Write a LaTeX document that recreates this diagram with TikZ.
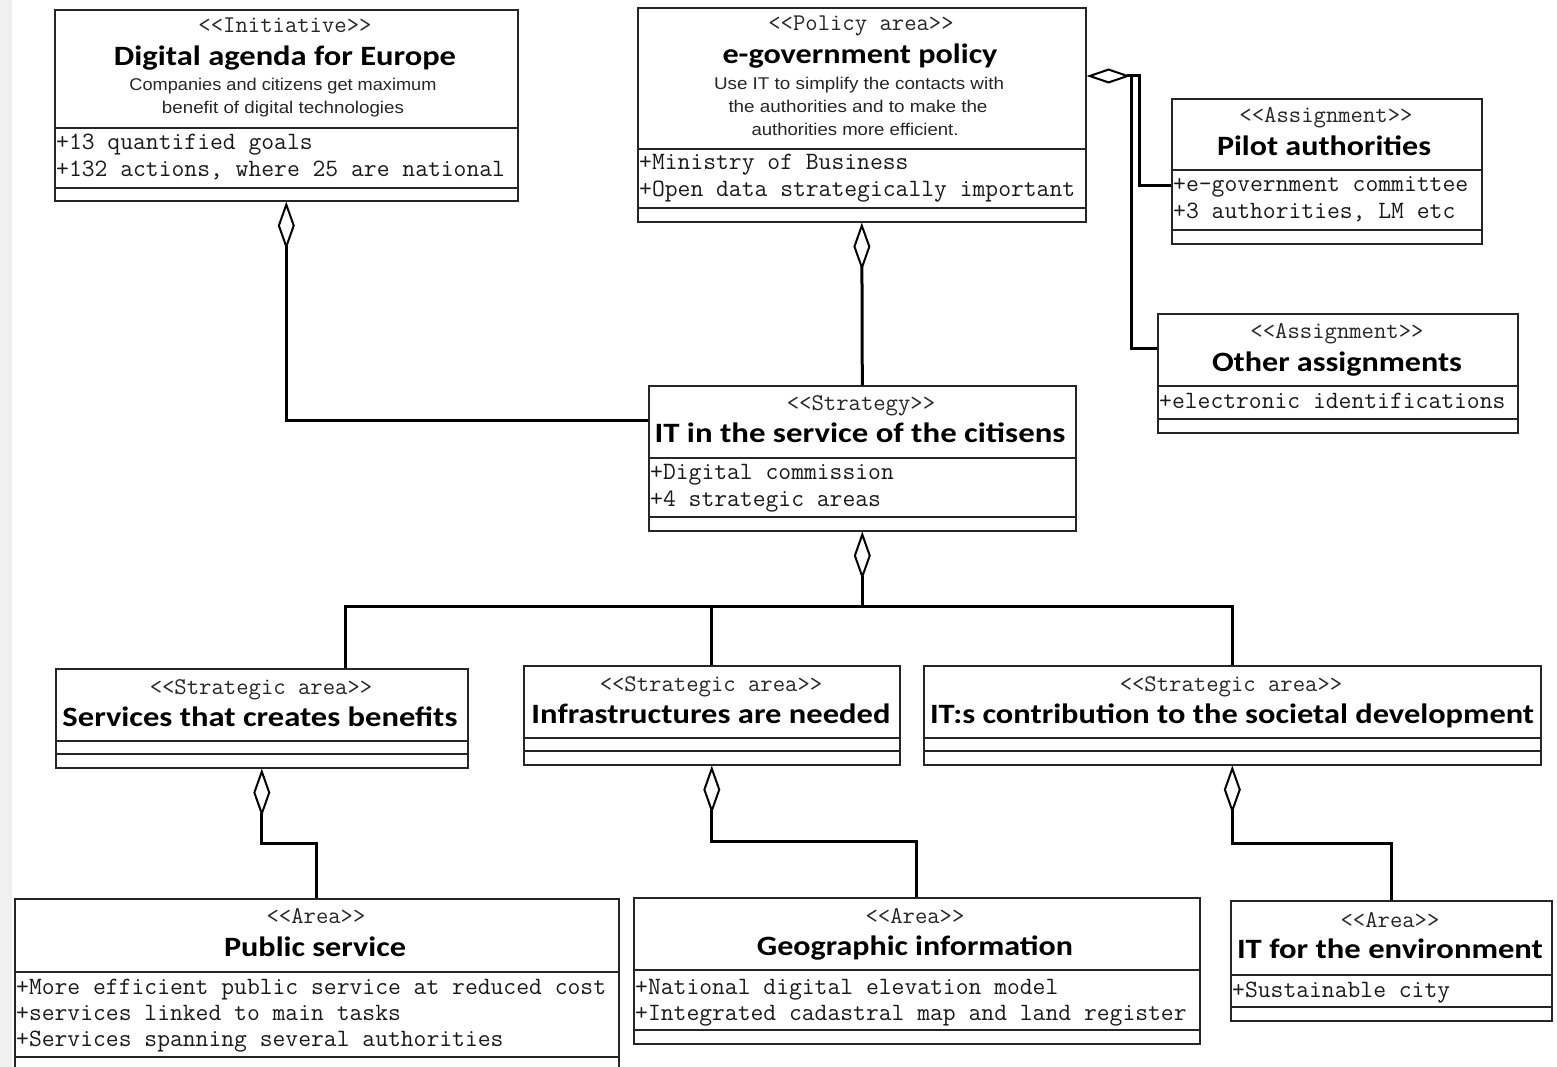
\documentclass[tikz,border=0pt]{standalone}
\usepackage{fontspec}
\usepackage{graphicx}
\usetikzlibrary{arrows.meta}
\newfontfamily\titlef{Carlito}
\newfontfamily\descf{Liberation Sans}
\newcommand\fw[2]{\resizebox{#1pt}{\height}{#2}}
\newcommand\csep[2]{\draw[sepline] ([yshift=-#2pt]#1.north west) -- ([yshift=-#2pt]#1.north east);}
\begin{document}
\begin{tikzpicture}[x=1pt,y=-1pt,
  cls/.style={draw=black!85,line width=1.6pt,fill=white,inner sep=0pt,anchor=north west},
  sepline/.style={draw=black!85,line width=1.4pt},
  ster/.style={font=\ttfamily\fontsize{24}{28}\selectfont,text=black!85,anchor=base,inner sep=0pt},
  ttl/.style={font=\titlef\bfseries\fontsize{28}{32}\selectfont,anchor=base,inner sep=0pt},
  dsc/.style={font=\descf\fontsize{17}{20}\selectfont,text=black!85,anchor=base,inner sep=0pt},
  attr/.style={font=\ttfamily\fontsize{24.9}{28}\selectfont,text=black!90,anchor=base west,inner sep=0pt},
  conn/.style={draw=black,line width=3pt},
  agg/.style={conn,-{Diamond[length=48pt,width=17pt,fill=white,line width=2pt]}},
  aggs/.style={conn,-{Diamond[length=44pt,width=15pt,fill=white,line width=2pt]}}]
\useasboundingbox (0,0) rectangle (1557,1067);
\clip (0,0) rectangle (1557,1067);
\fill[black!6] (0,0) rectangle (12,1067);

% class boxes
\node[cls,minimum width=463pt,minimum height=191pt] (dae) at (54,9) {};
\node[cls,minimum width=448pt,minimum height=214pt] (egov) at (637,7) {};
\node[cls,minimum width=310pt,minimum height=145pt] (pilot) at (1171,98) {};
\node[cls,minimum width=360pt,minimum height=119pt] (other) at (1157,313) {};
\node[cls,minimum width=427pt,minimum height=145pt] (strat) at (648,385) {};
\node[cls,minimum width=412pt,minimum height=99pt] (sa1) at (55,668) {};
\node[cls,minimum width=376pt,minimum height=99pt] (sa2) at (523,665) {};
\node[cls,minimum width=617pt,minimum height=99pt] (sa3) at (923,665) {};
\node[cls,minimum width=604pt,minimum height=182pt] (ps) at (14,898) {};
\node[cls,minimum width=566pt,minimum height=146pt] (geo) at (633,897) {};
\node[cls,minimum width=321pt,minimum height=120pt] (env) at (1230,900) {};

% compartments
\csep{dae}{119}\csep{dae}{179}
\csep{egov}{142}\csep{egov}{201}
\csep{pilot}{72}\csep{pilot}{132}
\csep{other}{73}\csep{other}{106}
\csep{strat}{73}\csep{strat}{132}
\csep{sa1}{73}\csep{sa1}{86}
\csep{sa2}{73}\csep{sa2}{86}
\csep{sa3}{73}\csep{sa3}{86}
\csep{ps}{74}\csep{ps}{159}
\csep{geo}{73}\csep{geo}{133}
\csep{env}{75}\csep{env}{107}

% connectors
\coordinate (c1) at (285.5,420);
\draw[agg] (strat.west |- c1) -| (dae.south);
\draw[agg] (strat.north) -- (egov.south);
\coordinate (e1) at (1131,76);
\coordinate (e2) at (1139,76);
\coordinate (o1) at (1131,348);
\coordinate (p1) at (1139,186);
\draw[conn] (other.west |- o1) -- (o1) -- (e1);
\draw[conn] (pilot.west |- p1) -- (p1) -- (e2) -- (e1);
\draw[aggs] (e1) -- (egov.east |- e1);
\coordinate (j1) at (345,606);
\draw[agg] (strat.south |- j1) -- (strat.south);
\draw[conn] (sa1.north -| j1) -- (j1) -- (sa3.north |- j1) -- (sa3.north);
\draw[conn] (sa2.north |- j1) -- (sa2.north);
\coordinate (k1) at (0,843);
\coordinate (k2) at (0,841);
\draw[agg] (ps.north) -- (ps.north |- k1) -| (sa1.south);
\draw[agg] (geo.north) -- (geo.north |- k2) -| (sa2.south);
\draw[agg] (env.north) -- (env.north |- k1) -| (sa3.south);

% texts
\node[ster] (dae-st) at (285,33) {<<Initiative>>};
\node[ttl] (dae-t) at (285,66) {\fw{342}{Digital agenda for Europe}};
\node[dsc] (dae-d1) at (283,91) {\fw{307}{Companies and citizens get maximum}};
\node[dsc] (dae-d2) at (283,114) {\fw{242}{benefit of digital technologies}};
\node[attr] (dae-a1) at (56,150) {+13 quantified goals};
\node[attr] (dae-a2) at (56,177) {+132 actions, where 25 are national};

\node[ster] (egov-st) at (861,31) {<<Policy area>>};
\node[ttl] (egov-t) at (860,64) {\fw{275}{e-government policy}};
\node[dsc] (egov-d1) at (859,90) {\fw{290}{Use IT to simplify the contacts with}};
\node[dsc] (egov-d2) at (858,113) {\fw{259}{the authorities and to make the}};
\node[dsc] (egov-d3) at (855,136) {\fw{207}{authorities more efficient.}};
\node[attr] (egov-a1) at (639,170) {+Ministry of Business};
\node[attr] (egov-a2) at (639,197) {+Open data strategically important};

\node[ster] (pilot-st) at (1326,123) {<<Assignment>>};
\node[ttl] (pilot-t) at (1324,156) {\fw{214}{Pilot authorities}};
\node[attr] (pilot-a1) at (1173,192) {+e-government committee};
\node[attr] (pilot-a2) at (1173,219) {+3 authorities, LM etc};

\node[ster] (other-st) at (1337,338) {<<Assignment>>};
\node[ttl] (other-t) at (1337,371) {\fw{250}{Other assignments}};
\node[attr] (other-a1) at (1159,408) {+electronic identifications};

\node[ster] (strat-st) at (861,410) {<<Strategy>>};
\node[ttl] (strat-t) at (860,442) {\fw{411}{IT in the service of the citisens}};
\node[attr] (strat-a1) at (650,479) {+Digital commission};
\node[attr] (strat-a2) at (650,506) {+4 strategic areas};

\node[ster] (sa1-st) at (261,694) {<<Strategic area>>};
\node[ttl] (sa1-t) at (260,726) {\fw{395}{Services that creates benefits}};
\node[ster] (sa2-st) at (711,691) {<<Strategic area>>};
\node[ttl] (sa2-t) at (711,723) {\fw{359}{Infrastructures are needed}};
\node[ster] (sa3-st) at (1231,691) {<<Strategic area>>};
\node[ttl] (sa3-t) at (1232,723) {\fw{604}{IT:s contribution to the societal development}};

\node[ster] (ps-st) at (316,923) {<<Area>>};
\node[ttl] (ps-t) at (315,956) {\fw{182}{Public service}};
\node[attr] (ps-a1) at (16,994) {+More efficient public service at reduced cost};
\node[attr] (ps-a2) at (16,1020) {+services linked to main tasks};
\node[attr] (ps-a3) at (16,1046) {+Services spanning several authorities};

\node[ster] (geo-st) at (915,923) {<<Area>>};
\node[ttl] (geo-t) at (915,955) {\fw{316}{Geographic information}};
\node[attr] (geo-a1) at (635,994) {+National digital elevation model};
\node[attr] (geo-a2) at (635,1020) {+Integrated cadastral map and land register};

\node[ster] (env-st) at (1390,927) {<<Area>>};
\node[ttl] (env-t) at (1390,958) {\fw{306}{IT for the environment}};
\node[attr] (env-a1) at (1232,997) {+Sustainable city};
\end{tikzpicture}
\end{document}
